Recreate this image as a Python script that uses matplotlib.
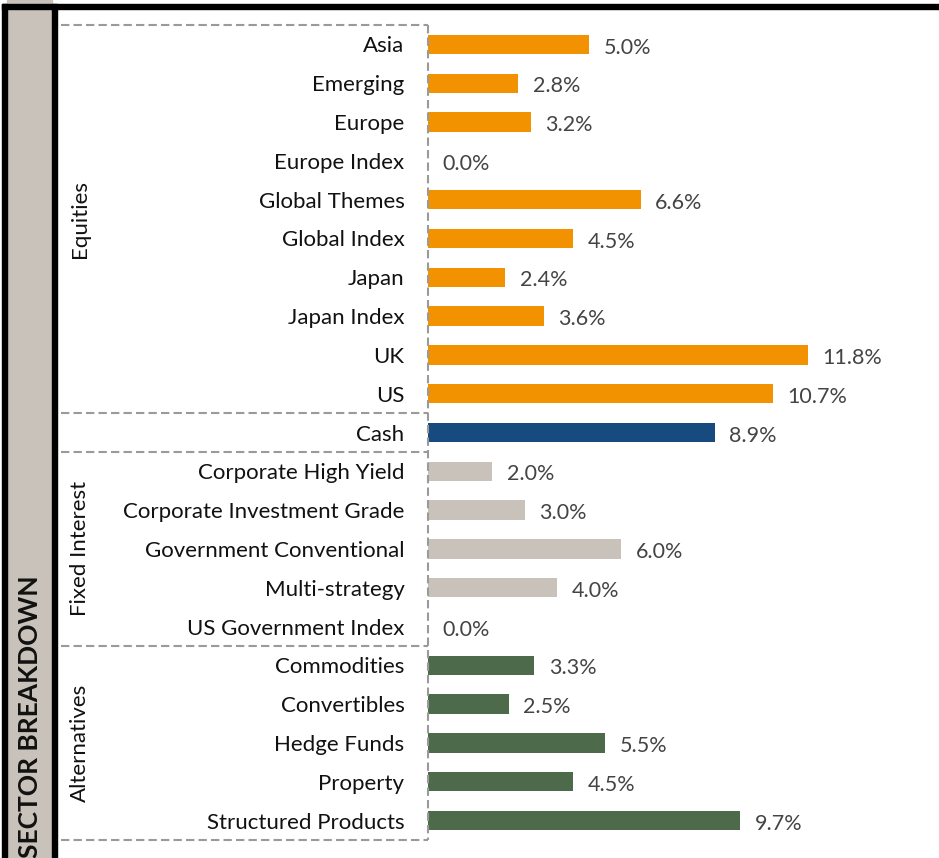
import matplotlib.pyplot as plt
from matplotlib.patches import Rectangle
from matplotlib.transforms import blended_transform_factory

plt.rcParams['font.family'] = ['Lato', 'DejaVu Sans']

# data
categories = ["Asia", "Emerging", "Europe", "Europe Index", "Global Themes",
              "Global Index", "Japan", "Japan Index", "UK", "US",
              "Cash",
              "Corporate High Yield", "Corporate Investment Grade",
              "Government Conventional", "Multi-strategy", "US Government Index",
              "Commodities", "Convertibles", "Hedge Funds", "Property",
              "Structured Products"]
values = [5.0, 2.8, 3.2, 0.0, 6.6, 4.5, 2.4, 3.6, 11.8, 10.7,
          8.9,
          2.0, 3.0, 6.0, 4.0, 0.0,
          3.3, 2.5, 5.5, 4.5, 9.7]
groups = ["Equities"] * 10 + ["Cash"] + ["Fixed Interest"] * 5 + ["Alternatives"] * 5
group_colors = {"Equities": "#F29200", "Cash": "#174A7E",
                "Fixed Interest": "#C9C2BA", "Alternatives": "#4D6B4A"}
group_labels = ["Equities", "Fixed Interest", "Alternatives"]

W, H = 939, 858
fig = plt.figure(figsize=(W / 100, H / 100), dpi=100)

# bar axes: left edge at x=428px, rows between y=25 and y=840
ax = fig.add_axes([428 / W, (H - 840) / H, (W - 428) / W, 815 / H])
ypos = list(range(len(categories)))
colors = [group_colors[g] for g in groups]
ax.barh(ypos, values, height=0.5, color=colors)
ax.set_ylim(len(categories) - 0.5, -0.5)
ax.set_xlim(0, (W - 428) / 32.2)
ax.set_yticks(ypos)
ax.set_yticklabels(categories, fontsize=16, color="#111111")
ax.tick_params(axis="y", length=0, pad=17)
ax.set_xticks([])
for s in ax.spines.values():
    s.set_visible(False)

for y, v in zip(ypos, values):
    ax.text(v + 0.45, y + 0.08, f"{v:.1f}%", va="center", ha="left",
            fontsize=15.5, color="#444444")

# dashed group dividers
tr = blended_transform_factory(ax.transAxes, ax.transData)
x_left = (61 - 428) / (W - 428)
dash = dict(color="#9A9A9A", lw=1.5, ls=(0, (4, 2)), clip_on=False)
for yb in [-0.5, 9.5, 10.5, 15.5, 20.5]:
    ax.plot([x_left, 0], [yb, yb], transform=tr, **dash)
ax.plot([0, 0], [-0.5, 20.5], transform=tr, **dash)

# group labels
group_centers = [4.5, 13, 18]
x_grp = (80 - 428) / (W - 428)
for lab, yc in zip(group_labels, group_centers):
    ax.text(x_grp, yc, lab, rotation=90, ha="center", va="center",
            fontsize=16, color="#111111", transform=tr)

# left side strip and top rule
fig.patches.append(Rectangle((7 / W, 0), 45 / W, 1, transform=fig.transFigure,
                             color="#C9C2BA", zorder=0))
fig.patches.append(Rectangle((2 / W, 0), 5 / W, (H - 4) / H, transform=fig.transFigure,
                             color="black", zorder=1))
fig.patches.append(Rectangle((52 / W, 0), 5 / W, (H - 4) / H, transform=fig.transFigure,
                             color="black", zorder=1))
fig.patches.append(Rectangle((2 / W, (H - 9) / H), (W - 2) / W, 5 / H,
                             transform=fig.transFigure, color="black", zorder=1))
fig.text(30 / W, 0.0, "SECTOR BREAKDOWN", rotation=90, ha="center", va="bottom",
         fontsize=19, fontweight="bold", color="#111111")

fig.savefig("out.png", dpi=100)
